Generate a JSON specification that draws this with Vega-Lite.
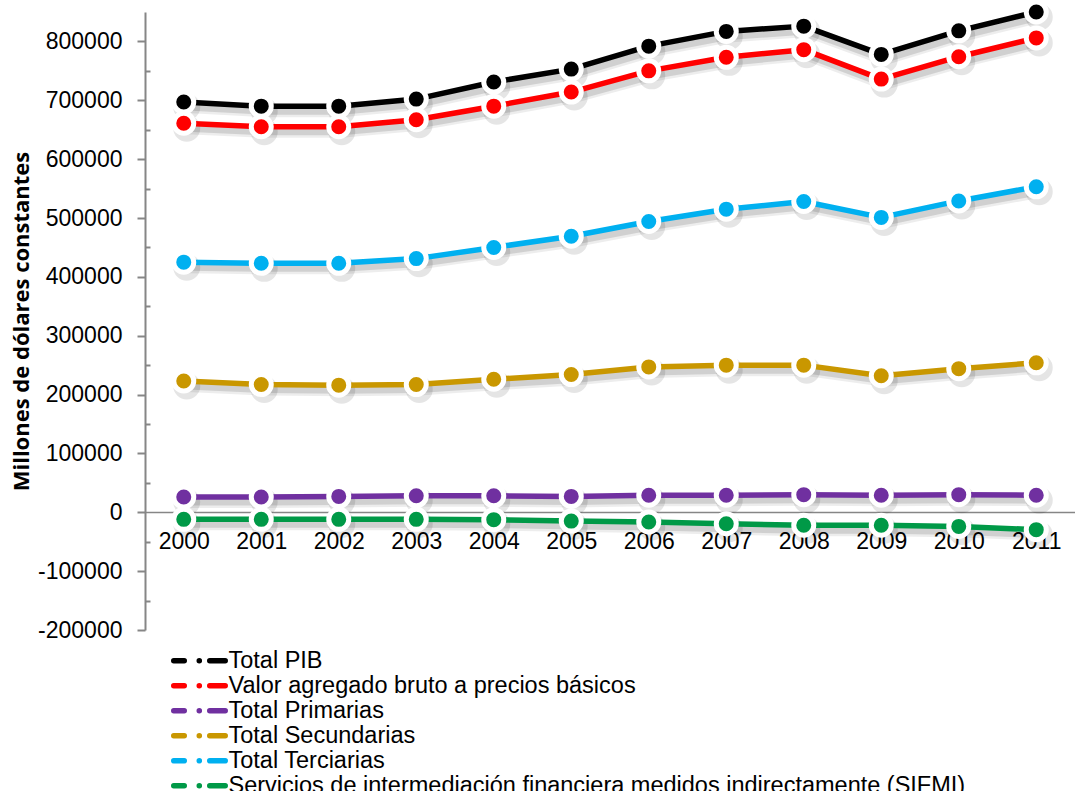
{
  "$schema": "https://vega.github.io/schema/vega-lite/v6.json",
  "width": 930,
  "height": 618,
  "autosize": {"type": "none"},
  "padding": {"left": 145, "top": 12, "right": 0, "bottom": 161},
  "background": "white",
  "config": {
    "view": {"stroke": null},
    "font": "Liberation Sans"
  },
  "data": {
    "values": [
      {"anio": "2000", "serie": "Total PIB", "valor": 697000},
      {"anio": "2001", "serie": "Total PIB", "valor": 690000},
      {"anio": "2002", "serie": "Total PIB", "valor": 690000},
      {"anio": "2003", "serie": "Total PIB", "valor": 702000},
      {"anio": "2004", "serie": "Total PIB", "valor": 731000},
      {"anio": "2005", "serie": "Total PIB", "valor": 753000},
      {"anio": "2006", "serie": "Total PIB", "valor": 792000},
      {"anio": "2007", "serie": "Total PIB", "valor": 817000},
      {"anio": "2008", "serie": "Total PIB", "valor": 826000},
      {"anio": "2009", "serie": "Total PIB", "valor": 778000},
      {"anio": "2010", "serie": "Total PIB", "valor": 818000},
      {"anio": "2011", "serie": "Total PIB", "valor": 850000},
      {"anio": "2000", "serie": "Valor agregado bruto a precios básicos", "valor": 661000},
      {"anio": "2001", "serie": "Valor agregado bruto a precios básicos", "valor": 655000},
      {"anio": "2002", "serie": "Valor agregado bruto a precios básicos", "valor": 655000},
      {"anio": "2003", "serie": "Valor agregado bruto a precios básicos", "valor": 667000},
      {"anio": "2004", "serie": "Valor agregado bruto a precios básicos", "valor": 690000},
      {"anio": "2005", "serie": "Valor agregado bruto a precios básicos", "valor": 714000},
      {"anio": "2006", "serie": "Valor agregado bruto a precios básicos", "valor": 750000},
      {"anio": "2007", "serie": "Valor agregado bruto a precios básicos", "valor": 773000},
      {"anio": "2008", "serie": "Valor agregado bruto a precios básicos", "valor": 786000},
      {"anio": "2009", "serie": "Valor agregado bruto a precios básicos", "valor": 736000},
      {"anio": "2010", "serie": "Valor agregado bruto a precios básicos", "valor": 774000},
      {"anio": "2011", "serie": "Valor agregado bruto a precios básicos", "valor": 806000},
      {"anio": "2000", "serie": "Total Primarias", "valor": 26000},
      {"anio": "2001", "serie": "Total Primarias", "valor": 26000},
      {"anio": "2002", "serie": "Total Primarias", "valor": 27000},
      {"anio": "2003", "serie": "Total Primarias", "valor": 28000},
      {"anio": "2004", "serie": "Total Primarias", "valor": 28000},
      {"anio": "2005", "serie": "Total Primarias", "valor": 27000},
      {"anio": "2006", "serie": "Total Primarias", "valor": 29000},
      {"anio": "2007", "serie": "Total Primarias", "valor": 29000},
      {"anio": "2008", "serie": "Total Primarias", "valor": 30000},
      {"anio": "2009", "serie": "Total Primarias", "valor": 29000},
      {"anio": "2010", "serie": "Total Primarias", "valor": 30000},
      {"anio": "2011", "serie": "Total Primarias", "valor": 29000},
      {"anio": "2000", "serie": "Total Secundarias", "valor": 223000},
      {"anio": "2001", "serie": "Total Secundarias", "valor": 217000},
      {"anio": "2002", "serie": "Total Secundarias", "valor": 216000},
      {"anio": "2003", "serie": "Total Secundarias", "valor": 217000},
      {"anio": "2004", "serie": "Total Secundarias", "valor": 226000},
      {"anio": "2005", "serie": "Total Secundarias", "valor": 234000},
      {"anio": "2006", "serie": "Total Secundarias", "valor": 247000},
      {"anio": "2007", "serie": "Total Secundarias", "valor": 250000},
      {"anio": "2008", "serie": "Total Secundarias", "valor": 250000},
      {"anio": "2009", "serie": "Total Secundarias", "valor": 232000},
      {"anio": "2010", "serie": "Total Secundarias", "valor": 244000},
      {"anio": "2011", "serie": "Total Secundarias", "valor": 254000},
      {"anio": "2000", "serie": "Total Terciarias", "valor": 425000},
      {"anio": "2001", "serie": "Total Terciarias", "valor": 423000},
      {"anio": "2002", "serie": "Total Terciarias", "valor": 423000},
      {"anio": "2003", "serie": "Total Terciarias", "valor": 431000},
      {"anio": "2004", "serie": "Total Terciarias", "valor": 450000},
      {"anio": "2005", "serie": "Total Terciarias", "valor": 469000},
      {"anio": "2006", "serie": "Total Terciarias", "valor": 494000},
      {"anio": "2007", "serie": "Total Terciarias", "valor": 515000},
      {"anio": "2008", "serie": "Total Terciarias", "valor": 528000},
      {"anio": "2009", "serie": "Total Terciarias", "valor": 501000},
      {"anio": "2010", "serie": "Total Terciarias", "valor": 529000},
      {"anio": "2011", "serie": "Total Terciarias", "valor": 553000},
      {"anio": "2000", "serie": "Servicios de intermediación financiera medidos indirectamente (SIFMI)", "valor": -12000},
      {"anio": "2001", "serie": "Servicios de intermediación financiera medidos indirectamente (SIFMI)", "valor": -12000},
      {"anio": "2002", "serie": "Servicios de intermediación financiera medidos indirectamente (SIFMI)", "valor": -12000},
      {"anio": "2003", "serie": "Servicios de intermediación financiera medidos indirectamente (SIFMI)", "valor": -12000},
      {"anio": "2004", "serie": "Servicios de intermediación financiera medidos indirectamente (SIFMI)", "valor": -12500},
      {"anio": "2005", "serie": "Servicios de intermediación financiera medidos indirectamente (SIFMI)", "valor": -15000},
      {"anio": "2006", "serie": "Servicios de intermediación financiera medidos indirectamente (SIFMI)", "valor": -16500},
      {"anio": "2007", "serie": "Servicios de intermediación financiera medidos indirectamente (SIFMI)", "valor": -19500},
      {"anio": "2008", "serie": "Servicios de intermediación financiera medidos indirectamente (SIFMI)", "valor": -22000},
      {"anio": "2009", "serie": "Servicios de intermediación financiera medidos indirectamente (SIFMI)", "valor": -22000},
      {"anio": "2010", "serie": "Servicios de intermediación financiera medidos indirectamente (SIFMI)", "valor": -24000},
      {"anio": "2011", "serie": "Servicios de intermediación financiera medidos indirectamente (SIFMI)", "valor": -29500}
    ]
  },
  "encoding": {
    "x": {
      "field": "anio",
      "type": "ordinal",
      "scale": {"type": "point", "padding": 0.5},
      "axis": {
        "title": null,
        "orient": "bottom",
        "offset": -118,
        "labelAngle": 0,
        "labelFontSize": 23,
        "labelColor": "#000000",
        "labelPadding": 18,
        "ticks": false,
        "domainColor": "#868686",
        "domainWidth": 1.5,
        "grid": false
      }
    },
    "y": {
      "field": "valor",
      "type": "quantitative",
      "scale": {"domain": [-200000, 850000], "nice": false, "zero": false},
      "axis": {
        "title": "Millones de dólares constantes",
        "titleFont": "Open Sans",
        "titleFontWeight": "bold",
        "titleFontSize": 22,
        "titleColor": "#000000",
        "titleAngle": -90,
        "titleX": -124,
        "titleY": 309,
        "titleAlign": "center",
        "titleBaseline": "middle",
        "values": [-200000, -150000, -100000, -50000, 0, 50000, 100000, 150000, 200000, 250000, 300000, 350000, 400000, 450000, 500000, 550000, 600000, 650000, 700000, 750000, 800000],
        "labelExpr": "datum.value % 100000 === 0 ? '' + datum.value : ''",
        "labelFontSize": 23,
        "labelColor": "#000000",
        "labelPadding": 15,
        "tickColor": "#868686",
        "tickWidth": 2,
        "tickSize": {"condition": {"test": "datum.value % 100000 === 0", "value": 8}, "value": -5},
        "domainColor": "#868686",
        "domainWidth": 2,
        "grid": false
      }
    }
  },
  "layer": [
    {
      "mark": {"type": "line", "stroke": "#000000", "strokeWidth": 12, "opacity": 0.07, "xOffset": 3, "yOffset": 5, "strokeJoin": "round"},
      "encoding": {"detail": {"field": "serie"}}
    },
    {
      "mark": {"type": "line", "stroke": "#000000", "strokeWidth": 7, "opacity": 0.12, "xOffset": 3, "yOffset": 5, "strokeJoin": "round"},
      "encoding": {"detail": {"field": "serie"}}
    },
    {
      "mark": {"type": "point", "shape": "circle", "filled": true, "fill": "#000000", "size": 730, "opacity": 0.1, "xOffset": 3, "yOffset": 5},
      "encoding": {}
    },
    {
      "mark": {"type": "line", "strokeWidth": 5.5, "strokeJoin": "round"},
      "encoding": {
        "color": {
          "field": "serie",
          "type": "nominal",
          "scale": {
            "domain": ["Total PIB", "Valor agregado bruto a precios básicos", "Total Primarias", "Total Secundarias", "Total Terciarias", "Servicios de intermediación financiera medidos indirectamente (SIFMI)"],
            "range": ["#000000", "#ff0000", "#7030a0", "#c99700", "#00b0f0", "#009947"]
          },
          "legend": {
            "title": null,
            "orient": "none",
            "legendX": 23,
            "legendY": 637,
            "padding": 0,
            "labelFontSize": 21,
            "labelColor": "#000000",
            "labelLimit": 900,
            "labelOffset": 37,
            "rowPadding": 0,
            "symbolType": "M-1,0H0.75M3.25,0H3.26M5,0H7.58",
            "symbolSize": 144,
            "symbolStrokeWidth": 5.5,
            "encode": {
              "symbols": {"update": {"strokeCap": {"value": "round"}, "fill": {"value": "transparent"}}},
              "labels": {"update": {"fontSize": {"value": 23.5}}}
            }
          }
        }
      }
    },
    {
      "mark": {"type": "point", "shape": "circle", "filled": true, "size": 400, "stroke": "#ffffff", "strokeWidth": 5, "opacity": 1},
      "encoding": {
        "color": {"field": "serie", "type": "nominal"},
        "detail": {"field": "serie"}
      }
    }
  ]
}
